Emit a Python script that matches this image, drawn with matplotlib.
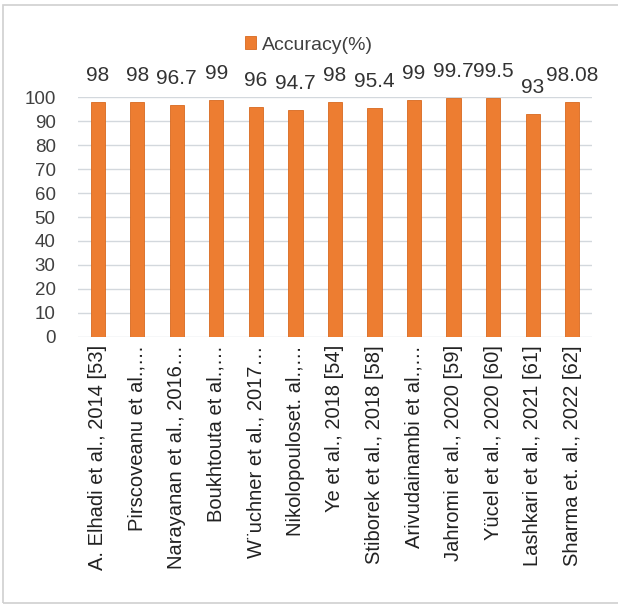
import matplotlib
matplotlib.use("Agg")
import matplotlib.pyplot as plt
from matplotlib.patches import Rectangle

studies = [
    "A. Elhadi et al., 2014 [53]",
    "Pirscoveanu et al.,…",
    "Narayanan et al., 2016…",
    "Boukhtouta et al.,…",
    "W¨uchner et al., 2017…",
    "Nikolopouloset. al.,…",
    "Ye et al., 2018 [54]",
    "Stiborek et al., 2018 [58]",
    "Arivudainambi et al.,…",
    "Jahromi et al., 2020 [59]",
    "Yücel et al., 2020 [60]",
    "Lashkari et al., 2021 [61]",
    "Sharma et. al., 2022 [62]",
]
accuracy = [98, 98, 96.7, 99, 96, 94.7, 98, 95.4, 99, 99.7, 99.5, 93, 98.08]
value_labels = ["98", "98", "96.7", "99", "96", "94.7", "98", "95.4", "99",
                "99.7", "99.5", "93", "98.08"]
yticks = [0, 10, 20, 30, 40, 50, 60, 70, 80, 90, 100]

plt.rcParams['font.family'] = ['Liberation Sans', 'DejaVu Sans']

fig = plt.figure(figsize=(6.18, 6.07), dpi=100)
fig.patch.set_facecolor("white")
fig.patches.append(Rectangle((3 / 618, 4 / 607), 1.2, 598 / 607,
                             transform=fig.transFigure, fill=False,
                             edgecolor="#D0D0D0", linewidth=1.2))

ax = fig.add_axes([0.126, 0.445, 0.832, 0.395])
x = list(range(len(studies)))
bars = ax.bar(x, accuracy, width=0.36, color="#ED7D31", edgecolor="#D8691F",
              linewidth=0.6, label="Accuracy(%)", zorder=3)

for xi, v, txt in zip(x, accuracy, value_labels):
    ax.annotate(txt, (xi, v), xytext=(0, 19), textcoords="offset points",
                ha="center", va="center", fontsize=15, color="#333333")

ax.set_ylim(0, 100)
ax.set_xlim(-0.5, len(studies) - 0.5)
ax.set_yticks(yticks)
ax.set_yticklabels([str(t) for t in yticks], fontsize=13.5, color="#404040")
ax.set_xticks(x)
ax.set_xticklabels(studies, rotation=90, fontsize=14.5, color="#222222",
                   ha="center", va="top")
ax.tick_params(axis="both", length=0)
ax.tick_params(axis="y", pad=16)
ax.tick_params(axis="x", pad=6)
ax.grid(axis="y", color="#D3D8DD", linewidth=1.0, zorder=0)
for s in ax.spines.values():
    s.set_visible(False)

fig.legend(handles=[bars], labels=["Accuracy(%)"], loc="center",
           bbox_to_anchor=(0.5, 1 - 45 / 607), frameon=False, fontsize=14,
           handlelength=0.6, handleheight=0.6, handletextpad=0.3,
           labelcolor="#404040")

fig.savefig("out.png", dpi=100)
